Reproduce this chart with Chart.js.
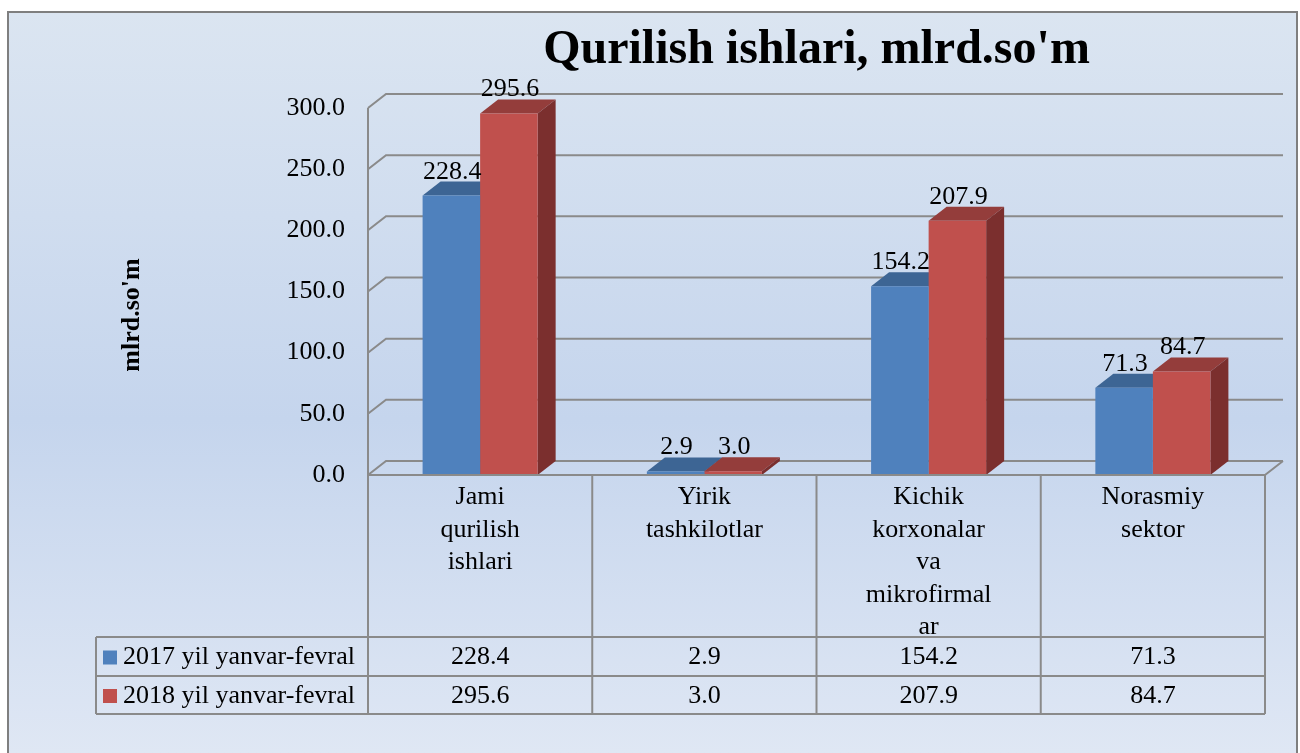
<!DOCTYPE html>
<html>
<head>
<meta charset="utf-8">
<script src="https://cdn.jsdelivr.net/npm/chart.js@4.4.0/dist/chart.umd.min.js"></script>
<style>
  body { margin: 0; background: #ffffff; }
  #contenedor { width: 1300px; height: 753px; }
</style>
</head>
<body>
<div id="contenedor"><canvas id="barCharQurilish" width="1300" height="753"></canvas></div>
<script>
// Datos del grafico
var categorias = [
  ["Jami", "qurilish", "ishlari"],
  ["Yirik", "tashkilotlar"],
  ["Kichik", "korxonalar", "va", "mikrofirmal", "ar"],
  ["Norasmiy", "sektor"]
];
var nombresSeries = ["2017 yil yanvar-fevral", "2018 yil yanvar-fevral"];
var valores2017 = [228.4, 2.9, 154.2, 71.3];
var valores2018 = [295.6, 3.0, 207.9, 84.7];
var ticksY = [0, 50, 100, 150, 200, 250, 300];
var tituloGrafico = "Qurilish ishlari, mlrd.so'm";
var tituloEjeY = "mlrd.so'm";

var FUENTE = "'Liberation Serif', 'Times New Roman', serif";
var colorFrente = ["#4f81bd", "#c0504d"];
var colorArriba = ["#3d6594", "#943d3b"];
var colorLado = ["#2f4f77", "#7b2f2e"];
var colorLinea = "#8a8a8a";
var DX = 18, DY = 14; // profundidad 3D

// Fondo con degradado y marco
var pluginFondo = {
  id: "fondo",
  beforeDraw: function (chart) {
    var ctx = chart.ctx;
    ctx.save();
    ctx.fillStyle = "#ffffff";
    ctx.fillRect(0, 0, chart.width, chart.height);
    var grad = ctx.createLinearGradient(0, 12, 0, chart.height);
    grad.addColorStop(0, "#dbe5f1");
    grad.addColorStop(0.55, "#c5d5ed");
    grad.addColorStop(1, "#dfe7f4");
    ctx.fillStyle = grad;
    ctx.fillRect(8, 12, 1289, chart.height);
    ctx.strokeStyle = "#7f7f7f";
    ctx.lineWidth = 2;
    ctx.strokeRect(8, 12, 1289, chart.height + 10);
    ctx.restore();
  }
};

// Paredes 3D y caras superiores / laterales de las barras
var plugin3D = {
  id: "tresD",
  beforeDatasetsDraw: function (chart) {
    var ctx = chart.ctx;
    var area = chart.chartArea;
    var y = chart.scales.y;
    ctx.save();
    ctx.strokeStyle = colorLinea;
    ctx.lineWidth = 2;
    ctx.beginPath();
    ctx.moveTo(area.left, area.bottom);
    ctx.lineTo(area.left, area.top);
    ticksY.forEach(function (v) {
      var py = y.getPixelForValue(v);
      ctx.moveTo(area.left, py);
      ctx.lineTo(area.left + DX, py - DY);
      ctx.lineTo(area.right + DX, py - DY);
    });
    ctx.moveTo(area.right, area.bottom);
    ctx.lineTo(area.right + DX, area.bottom - DY);
    ctx.stroke();

    // caras de las barras
    chart.data.datasets.forEach(function (ds, i) {
      var meta = chart.getDatasetMeta(i);
      meta.data.forEach(function (bar) {
        var izq = bar.x - bar.width / 2;
        var der = bar.x + bar.width / 2;
        ctx.fillStyle = colorArriba[i];
        ctx.beginPath();
        ctx.moveTo(izq, bar.y);
        ctx.lineTo(izq + DX, bar.y - DY);
        ctx.lineTo(der + DX, bar.y - DY);
        ctx.lineTo(der, bar.y);
        ctx.closePath();
        ctx.fill();
        ctx.fillStyle = colorLado[i];
        ctx.beginPath();
        ctx.moveTo(der, bar.y);
        ctx.lineTo(der + DX, bar.y - DY);
        ctx.lineTo(der + DX, bar.base - DY);
        ctx.lineTo(der, bar.base);
        ctx.closePath();
        ctx.fill();
      });
    });
    ctx.restore();
  },
  afterDatasetsDraw: function (chart) {
    var ctx = chart.ctx;
    ctx.save();
    ctx.fillStyle = "#000";
    ctx.font = "26px " + FUENTE;
    ctx.textAlign = "center";
    ctx.textBaseline = "alphabetic";
    chart.data.datasets.forEach(function (ds, i) {
      var meta = chart.getDatasetMeta(i);
      meta.data.forEach(function (bar, j) {
        ctx.fillText(ds.data[j].toFixed(1), bar.x + 1, bar.y - DY - 3);
      });
    });
    ctx.restore();
  }
};

// Tabla de datos, titulo y titulo del eje Y
var pluginTabla = {
  id: "tabla",
  afterDraw: function (chart) {
    var ctx = chart.ctx;
    var area = chart.chartArea;
    var x = chart.scales.x;
    var n = categorias.length;
    var ancho = (area.right - area.left) / n;
    var filas = [637, 676, 714];
    var izqLeyenda = 96;
    ctx.save();
    ctx.strokeStyle = colorLinea;
    ctx.lineWidth = 2;
    ctx.beginPath();
    ctx.moveTo(area.left, area.bottom);
    ctx.lineTo(area.right, area.bottom);
    for (var k = 0; k <= n; k++) {
      var bx = area.left + k * ancho;
      ctx.moveTo(bx, area.bottom);
      ctx.lineTo(bx, filas[2]);
    }
    filas.forEach(function (fy) {
      ctx.moveTo(izqLeyenda, fy);
      ctx.lineTo(area.right, fy);
    });
    ctx.moveTo(izqLeyenda, filas[0]);
    ctx.lineTo(izqLeyenda, filas[2]);
    ctx.stroke();

    var series = [valores2017, valores2018];
    ctx.font = "26px " + FUENTE;
    ctx.textBaseline = "middle";
    series.forEach(function (vals, i) {
      var cy = (filas[i] + filas[i + 1]) / 2 + 1;
      ctx.fillStyle = colorFrente[i];
      ctx.fillRect(103, cy - 7, 14, 14);
      ctx.fillStyle = "#000";
      ctx.textAlign = "left";
      ctx.fillText(nombresSeries[i], 123, cy);
      ctx.textAlign = "center";
      vals.forEach(function (v, j) {
        ctx.fillText(v.toFixed(1), x.getPixelForValue(j), cy);
      });
    });

    // titulo
    ctx.font = "bold 48px " + FUENTE;
    ctx.textAlign = "center";
    ctx.textBaseline = "alphabetic";
    ctx.fillText(tituloGrafico, (area.left + area.right) / 2, 63);

    // titulo eje Y
    ctx.translate(132, 315);
    ctx.rotate(-Math.PI / 2);
    ctx.font = "bold 26px " + FUENTE;
    ctx.textBaseline = "middle";
    ctx.fillText(tituloEjeY, 0, 0);
    ctx.restore();
  }
};

var ctx = document.getElementById("barCharQurilish").getContext("2d");

var config = {
  type: "bar",
  data: {
    labels: categorias,
    datasets: [
      { label: nombresSeries[0], data: valores2017, backgroundColor: colorFrente[0] },
      { label: nombresSeries[1], data: valores2018, backgroundColor: colorFrente[1] }
    ]
  },
  options: {
    responsive: false,
    animation: false,
    devicePixelRatio: 1,
    categoryPercentage: 0.513,
    barPercentage: 1.0,
    clip: false,
    layout: { padding: { left: 100, right: 35, top: 108, bottom: 0 } },
    plugins: {
      legend: { display: false },
      title: { display: false },
      tooltip: { enabled: false }
    },
    scales: {
      x: {
        grid: { display: false, drawTicks: false },
        border: { display: false },
        ticks: {
          color: "#000",
          font: { family: FUENTE, size: 26, lineHeight: 1.25 },
          padding: 6,
          maxRotation: 0,
          autoSkip: false
        },
        afterFit: function (scale) { scale.height = 278; }
      },
      y: {
        min: 0,
        max: 300,
        grid: { display: false, drawTicks: false },
        border: { display: false },
        ticks: {
          color: "#000",
          font: { family: FUENTE, size: 26 },
          padding: 23,
          callback: function (v) { return Number(v).toFixed(1); }
        },
        afterBuildTicks: function (scale) {
          scale.ticks = ticksY.map(function (v) { return { value: v }; });
        },
        afterFit: function (scale) { scale.width = 268; }
      }
    }
  },
  plugins: [pluginFondo, plugin3D, pluginTabla]
};

var grafico = new Chart(ctx, config);
</script>
</body>
</html>
